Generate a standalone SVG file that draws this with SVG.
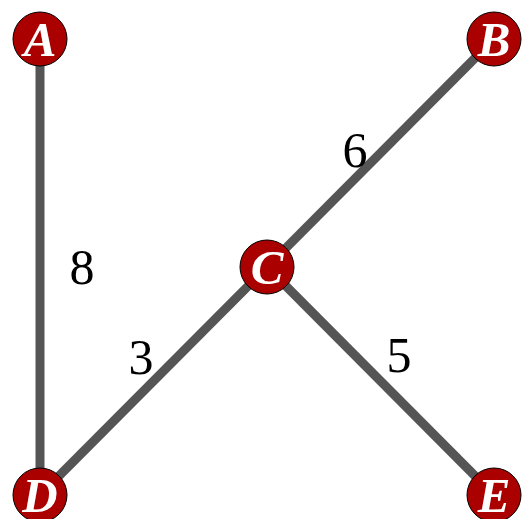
<svg xmlns="http://www.w3.org/2000/svg" width="525" height="519" viewBox="0 0 525 519">
<style>
.e{stroke:#555;stroke-width:9;fill:none}
.n{fill:#aa0000;stroke:#000;stroke-width:1}
.t{font-family:"Liberation Serif",serif;font-weight:bold;font-style:italic;font-size:49px;fill:#fff;text-anchor:middle}
.l{font-family:"Liberation Serif",serif;font-size:50px;fill:#000;text-anchor:middle}
</style>
<rect width="525" height="519" fill="#fff"/>
<g id="connectors">
<line class="e" x1="40" y1="39" x2="40" y2="495"/>
<line class="e" x1="494" y1="39" x2="267" y2="267"/>
<line class="e" x1="267" y1="267" x2="40" y2="495"/>
<line class="e" x1="267" y1="267" x2="494" y2="495"/>
<text class="l" x="82" y="284">8</text>
<text class="l" x="355" y="167">6</text>
<text class="l" x="141" y="374">3</text>
<text class="l" x="399" y="372">5</text>
</g>
<g id="A"><circle class="n" cx="40" cy="39" r="27"/><text class="t" x="40" y="56">A</text></g>
<g id="B"><circle class="n" cx="494" cy="39" r="27"/><text class="t" x="494" y="56">B</text></g>
<g id="C"><circle class="n" cx="267" cy="267" r="27"/><text class="t" x="267" y="284">C</text></g>
<g id="D"><circle class="n" cx="40" cy="495" r="27"/><text class="t" x="40" y="512">D</text></g>
<g id="E"><circle class="n" cx="494" cy="495" r="27"/><text class="t" x="494" y="512">E</text></g>
</svg>
